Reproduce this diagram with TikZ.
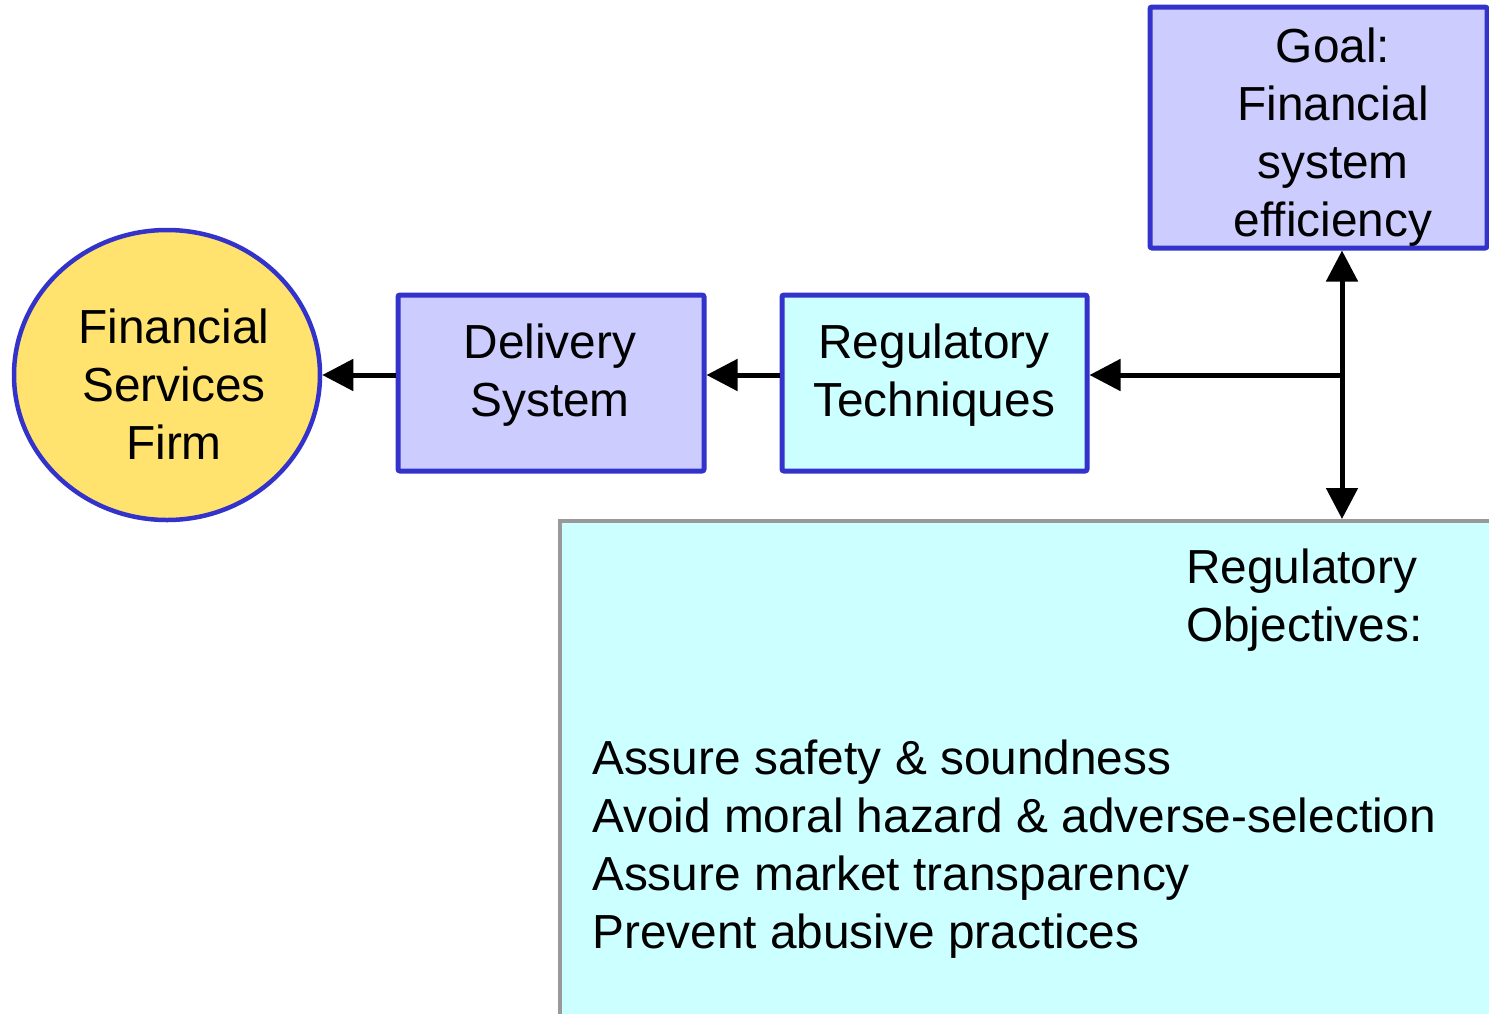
\documentclass[tikz,border=0pt]{standalone}
\usepackage{fontspec}
\setmainfont{Liberation Sans}
\usetikzlibrary{arrows.meta,shapes.geometric}
\definecolor{bord}{HTML}{3333CC}
\definecolor{lav}{HTML}{CCCCFF}
\definecolor{cyanl}{HTML}{CCFFFF}
\definecolor{yel}{HTML}{FFE36E}
\definecolor{grayb}{HTML}{999999}
\tikzset{
  txt/.style={font=\fontsize{47.8}{58}\selectfont, align=center, inner sep=0pt},
  box/.style={draw=bord, line width=5pt, rounded corners=2pt, inner sep=0pt},
  arr/.style={line width=5pt, -{Triangle[length=31pt,width=31pt]}},
  darr/.style={line width=5pt, {Triangle[length=31pt,width=31pt]}-{Triangle[length=31pt,width=31pt]}},
}
\begin{document}
\begin{tikzpicture}[x=1pt,y=-1pt]
\useasboundingbox (0,0) rectangle (1489,1013);
\clip (0,0) rectangle (1489,1013);
% objectives box
\node[draw=grayb, fill=cyanl, line width=4pt, minimum width=960pt, minimum height=520pt, anchor=north west, inner sep=0pt] (obj) at (558,519) {};
\node[txt, align=left, anchor=west] (objt) at (1186,600) {Regulatory\\Objectives:};
\node[txt, align=left, anchor=west] (objl) at (592,849) {Assure safety \& soundness\\Avoid moral hazard \& adverse-selection\\Assure market transparency\\Prevent abusive practices};
% firm
\node[ellipse, draw=bord, fill=yel, line width=4.5pt, minimum width=306pt, minimum height=290pt, inner sep=0pt] (firm) at (167,375) {};
\node[txt] at (174,384) {Financial\\Services\\Firm};
% delivery
\node[box, fill=lav, minimum width=306pt, minimum height=176pt] (del) at (551,383) {};
\node[txt] at (550,375) {Delivery\\System};
% techniques
\node[box, fill=cyanl, minimum width=305pt, minimum height=176pt] (tech) at (934.5,383) {};
\node[txt] at (934,375) {Regulatory\\Techniques};
% goal
\node[box, fill=lav, minimum width=337pt, minimum height=241pt] (goal) at (1318.5,127.5) {};
\node[txt] at (1333,137) {Goal:\\Financial\\system\\efficiency};
% connectors
\coordinate (j) at (1342,375);
\draw[arr] (del.west |- 0,375) -- (firm.east |- 0,375);
\draw[arr] (tech.west |- 0,375) -- (del.east |- 0,375);
\draw[arr] (j) -- (tech.east |- j);
\draw[darr] (goal.south -| j) -- (obj.north -| j);
\end{tikzpicture}
\end{document}
